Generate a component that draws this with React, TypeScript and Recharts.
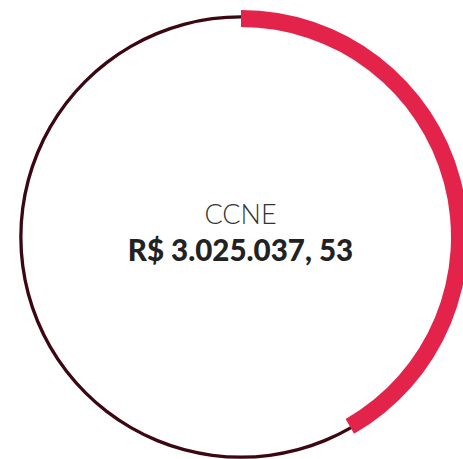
import { PieChart, Pie, Cell } from "recharts";

const ringValues = [{ name: "total", value: 100 }];
const arcValues = [
  { name: "CCNE", value: 41.7 },
  { name: "outros", value: 58.3 },
];
const title = "CCNE";
const amount = "R$ 3.025.037, 53";

const RED = "#e3234a";
const DARK = "#3a0712";

export default function App() {
  return (
    <div style={{ position: "absolute", left: 0, top: 0, width: 463, height: 459, background: "#fff", overflow: "hidden" }}>
      <PieChart width={463} height={459} margin={{ top: 0, right: 0, bottom: 0, left: 0 }}>
        <Pie
          data={ringValues}
          dataKey="value"
          cx={241}
          cy={237}
          innerRadius={218.5}
          outerRadius={221.8}
          startAngle={90}
          endAngle={-270}
          stroke="none"
          isAnimationActive={false}
        >
          <Cell fill={DARK} />
        </Pie>
        <Pie
          data={arcValues}
          dataKey="value"
          cx={241}
          cy={237}
          innerRadius={210}
          outerRadius={227}
          startAngle={90}
          endAngle={-270}
          stroke="none"
          isAnimationActive={false}
        >
          <Cell fill={RED} />
          <Cell fill="transparent" />
        </Pie>
      </PieChart>
      <div
        style={{
          position: "absolute",
          left: 0,
          width: 481,
          top: 197,
          textAlign: "center",
          fontFamily: "Lato, sans-serif",
          color: "#333",
        }}
      >
        <div style={{ fontSize: 27, fontWeight: 300, lineHeight: "34px" }}>{title}</div>
        <div style={{ fontSize: 29.5, fontWeight: 900, color: "#222", lineHeight: "38px" }}>{amount}</div>
      </div>
    </div>
  );
}
